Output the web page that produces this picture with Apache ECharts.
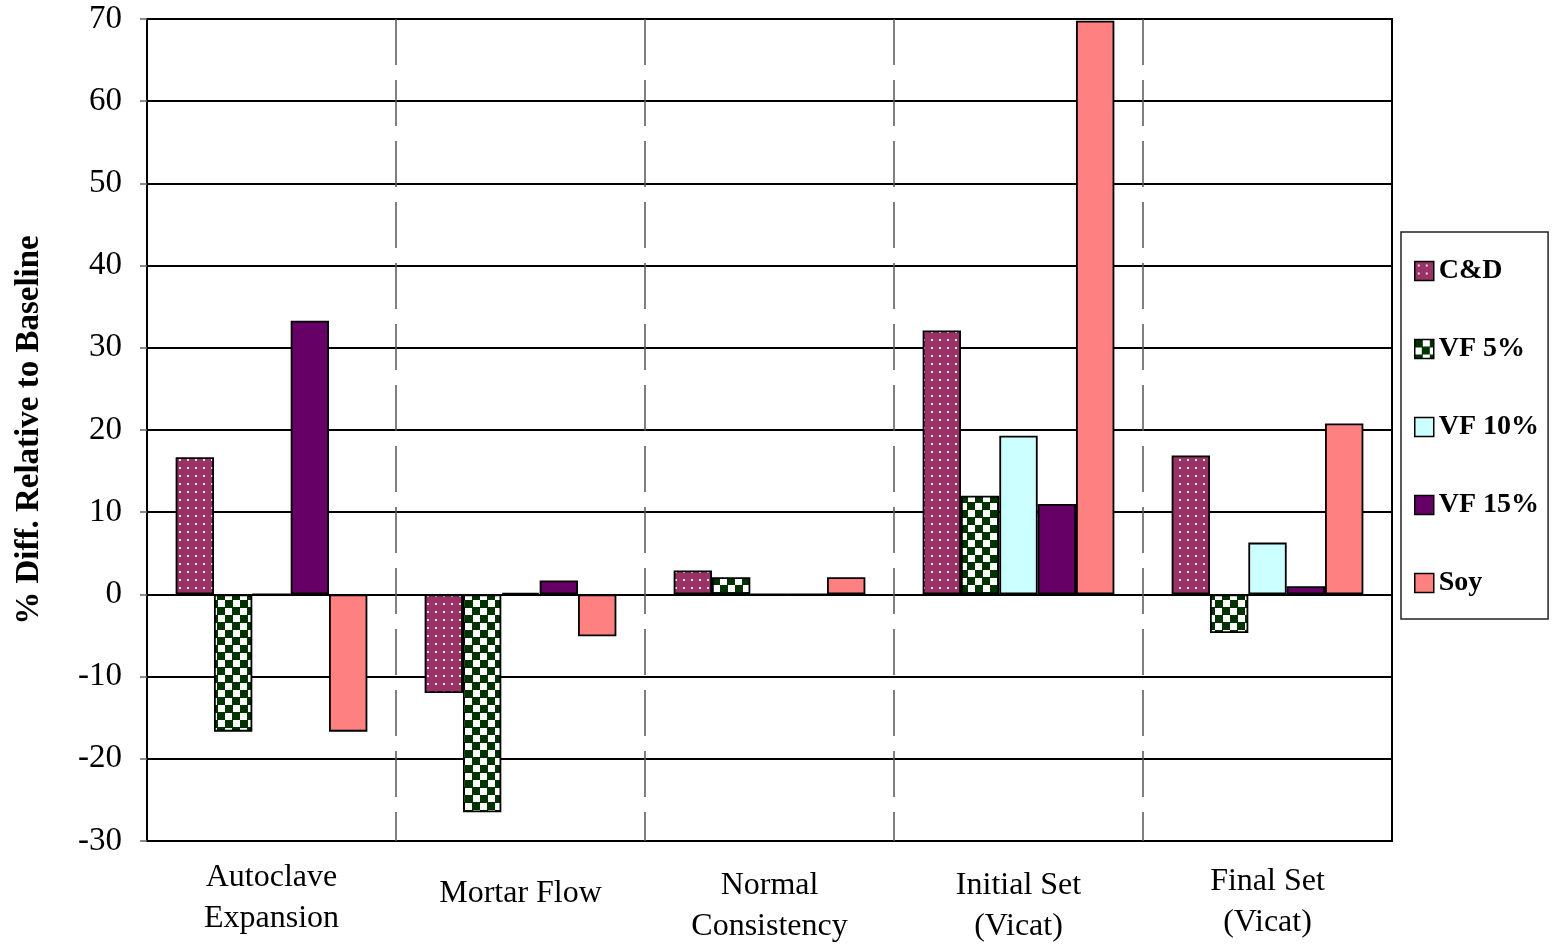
<!DOCTYPE html>
<html>
<head>
<meta charset="utf-8">
<title>% Diff. Relative to Baseline</title>
<script src="https://cdn.jsdelivr.net/npm/echarts@6/dist/echarts.min.js"></script>
<style>
  html, body { margin: 0; padding: 0; background: #fff; }
  #chart { width: 1556px; height: 946px; }
</style>
</head>
<body>
<div id="chart"></div>
<script>
// Test categories (x axis)
const categories = [
  'Autoclave\nExpansion',
  'Mortar Flow',
  'Normal\nConsistency',
  'Initial Set\n(Vicat)',
  'Final Set\n(Vicat)'
];

// Series names
const seriesNames = ['C&D', 'VF 5%', 'VF 10%', 'VF 15%', 'Soy'];

// % difference relative to baseline, one array per mix
const cdValues    = [16.7, -12.0, 2.9, 32.1, 16.9];
const vf5Values   = [-16.7, -26.5, 2.1, 12.0, -4.7];
const vf10Values  = [0, 0.2, 0, 19.3, 6.3];
const vf15Values  = [33.3, 1.7, 0, 11.0, 1.0];
const soyValues   = [-16.7, -5.1, 2.1, 69.8, 20.8];

// Value axis range
const yMin = -30;
const yMax = 70;
const yStep = 10;

// Extra top padding for each category label (vertical centring of the label blocks)
const labelPad = [0, 16, 8, 8, 4];

const FONT = '"Liberation Serif", "Times New Roman", serif';

// Dotted fill for C&D
function dotPattern() {
  const c = document.createElement('canvas');
  c.width = 8; c.height = 8;
  const g = c.getContext('2d');
  g.fillStyle = '#993366';
  g.fillRect(0, 0, 8, 8);
  g.fillStyle = 'rgba(255,255,255,0.85)';
  g.fillRect(3, 3, 2, 2);
  return c;
}

// Checkerboard fill for VF 5% (dark squares slightly wider than the white ones)
function checkerPattern() {
  const c = document.createElement('canvas');
  c.width = 15; c.height = 15;
  const g = c.getContext('2d');
  g.fillStyle = '#ffffff';
  g.fillRect(0, 0, 15, 15);
  g.fillStyle = '#003300';
  g.fillRect(0, 0, 8, 8);
  g.fillRect(7, 7, 8, 8);
  return c;
}

const fills = [
  { image: dotPattern(), repeat: 'repeat' },
  { image: checkerPattern(), repeat: 'repeat' },
  '#CCFFFF',
  '#660066',
  '#FF8080'
];

const valueSets = [cdValues, vf5Values, vf10Values, vf15Values, soyValues];

const chart = echarts.init(document.getElementById('chart'), null, { renderer: 'canvas' });

const option = {
  animation: false,
  backgroundColor: '#ffffff',
  textStyle: { fontFamily: FONT, color: '#000' },
  grid: {
    left: 147, right: 164, top: 19, bottom: 105,
    outerBoundsMode: 'none',
    containLabel: false,
    show: true,
    borderColor: '#000',
    borderWidth: 2,
    backgroundColor: 'transparent'
  },
  legend: {
    orient: 'vertical',
    left: 1401,
    top: 232,
    padding: [25, 9, 22, 13],
    itemGap: 50,
    itemWidth: 19,
    itemHeight: 19,
    itemTextGap: 7,
    icon: 'rect',
    borderColor: '#222',
    borderWidth: 1.5,
    backgroundColor: '#fff',
    itemStyle: { borderColor: '#000', borderWidth: 1.5 },
    textStyle: {
      fontFamily: FONT,
      fontSize: 28,
      fontWeight: 'bold',
      color: '#000',
      lineHeight: 28
    },
    data: seriesNames
  },
  xAxis: {
    type: 'category',
    data: categories.map((c, i) => ({
      value: c,
      textStyle: { padding: [labelPad[i], 0, 0, 0] }
    })),
    boundaryGap: true,
    axisLine: { show: false, onZero: false },
    axisTick: { show: false },
    axisLabel: {
      interval: 0,
      margin: 16,
      fontFamily: FONT,
      fontSize: 32,
      lineHeight: 41,
      color: '#000'
    },
    splitLine: {
      show: true,
      showMinLine: false,
      showMaxLine: false,
      lineStyle: { color: '#555', width: 1.5, type: [46, 15] }
    }
  },
  yAxis: {
    type: 'value',
    min: yMin,
    max: yMax,
    interval: yStep,
    name: '% Diff. Relative to Baseline',
    nameLocation: 'middle',
    nameRotate: 90,
    nameGap: 101,
    nameTextStyle: {
      fontFamily: FONT,
      fontSize: 33,
      fontWeight: 'bold',
      color: '#000'
    },
    axisLine: { show: true, lineStyle: { color: '#000', width: 2 } },
    axisTick: { show: true, length: 7, lineStyle: { color: '#666', width: 1.5 } },
    axisLabel: {
      margin: 25,
      fontFamily: FONT,
      fontSize: 33,
      color: '#000'
    },
    splitLine: { show: true, lineStyle: { color: '#000', width: 2 } }
  },
  series: seriesNames.map((name, i) => ({
    name: name,
    type: 'bar',
    data: valueSets[i],
    barGap: '0%',
    barCategoryGap: '23%',
    itemStyle: {
      color: fills[i],
      borderColor: '#000',
      borderWidth: 1.8
    },
    emphasis: { disabled: true }
  }))
};

chart.setOption(option);
</script>
</body>
</html>
